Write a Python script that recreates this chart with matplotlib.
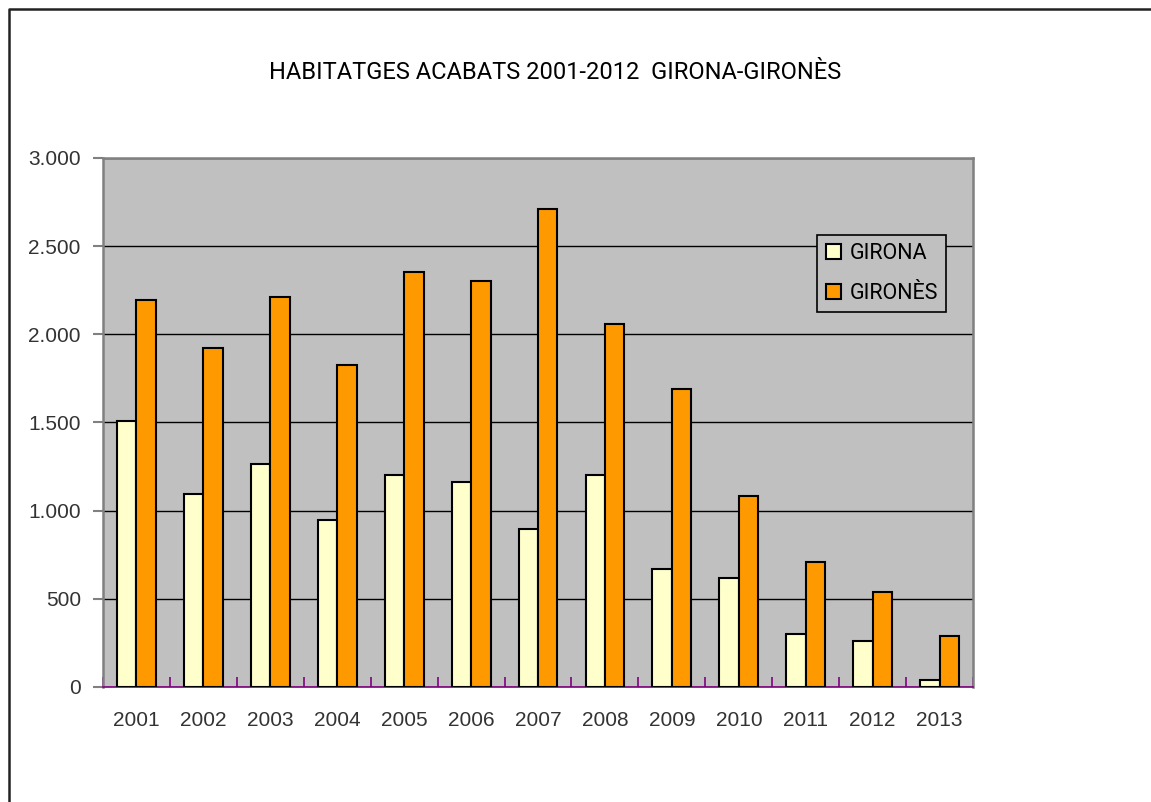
import matplotlib.pyplot as plt
from matplotlib.lines import Line2D
from matplotlib.ticker import FuncFormatter, FixedLocator
import numpy as np

years = ["2001", "2002", "2003", "2004", "2005", "2006", "2007",
         "2008", "2009", "2010", "2011", "2012", "2013"]
girona = [1510, 1095, 1265, 947, 1202, 1163, 896, 1202, 669, 618, 301, 261, 40]
girones = [2195, 1923, 2212, 1826, 2354, 2303, 2711, 2059, 1690, 1083, 709, 539, 289]

title = "HABITATGES ACABATS 2001-2012  GIRONA-GIRONÈS"
narrow = ["Roboto", "Liberation Sans", "DejaVu Sans"]

fig = plt.figure(figsize=(11.51, 8.02), dpi=100)
ax = fig.add_axes([0.0895, 0.1434, 0.7559, 0.6596])
ax.set_facecolor("#C0C0C0")

x = np.arange(len(years))
w = 0.29
ax.bar(x - w / 2, girona, w, color="#FFFFCC", edgecolor="black", linewidth=1.5,
       label="GIRONA", zorder=3)
ax.bar(x + w / 2, girones, w, color="#FF9900", edgecolor="black", linewidth=1.5,
       label="GIRONÈS", zorder=3)

ax.set_xlim(-0.5, len(years) - 0.5)
ax.set_ylim(0, 3000)
ax.set_yticks(range(0, 3001, 500))
ax.yaxis.set_major_formatter(FuncFormatter(lambda v, p: f"{int(v):,}".replace(",", ".")))
ax.grid(axis="y", color="black", linewidth=1, zorder=1)
ax.set_axisbelow(True)

# year labels in the middle, purple ticks on the category boundaries
ax.set_xticks(x)
ax.set_xticklabels(years)
ax.xaxis.set_minor_locator(FixedLocator(np.arange(-0.5, len(years), 1)))
ax.tick_params(axis="x", which="major", length=0, pad=17)
ax.tick_params(axis="x", which="minor", direction="in", length=7, color="#800080", width=1.2)
ax.tick_params(axis="y", length=7, color="#808080", width=1.5, pad=9)
for lab in ax.get_xticklabels() + ax.get_yticklabels():
    lab.set_fontfamily(["Liberation Sans", "DejaVu Sans"])
    lab.set_fontsize(15)
    lab.set_color("#333333")

for side in ["left", "top", "right"]:
    ax.spines[side].set_color("#808080")
    ax.spines[side].set_linewidth(1.8)
ax.spines["bottom"].set_color("#800080")
ax.spines["bottom"].set_linewidth(1.2)

leg = ax.legend(loc="upper left", bbox_to_anchor=(0.8207, 0.855), frameon=True,
                fancybox=False, framealpha=1, facecolor="#C0C0C0", edgecolor="black",
                prop={"family": narrow, "size": 15.5}, handlelength=0.7, handleheight=0.7,
                handletextpad=0.4, labelspacing=0.85, borderpad=0.4, borderaxespad=0)
leg.get_frame().set_linewidth(1.2)
leg.set_zorder(5)

fig.text(0.482, 0.909, title, ha="center", va="center", fontsize=17, family=narrow)

# outer chart frame (only top and left edges fall inside the image)
fig.add_artist(Line2D([0.0075, 0.0075, 1.0], [0.0, 0.9885, 0.9885], transform=fig.transFigure,
                      color="#222222", linewidth=1.8))

fig.savefig("out.png", dpi=100)
